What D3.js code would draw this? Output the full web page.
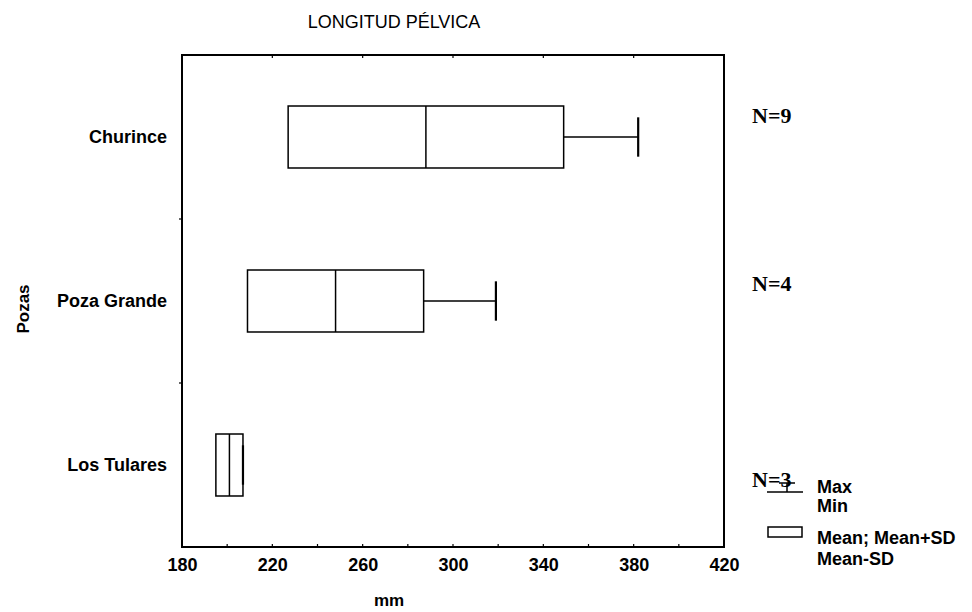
<!DOCTYPE html>
<html>
<head>
<meta charset="utf-8">
<script src="https://cdn.jsdelivr.net/npm/d3@7"></script>
<style>
  body { margin: 0; background: #fff; }
  svg { display: block; }
  text { font-family: "Liberation Sans", Arial, sans-serif; fill: #000; }
</style>
</head>
<body>
<svg id="chart" width="972" height="612"></svg>
<script>
// ---- data ----
const categories = ["Churince", "Poza Grande", "Los Tulares"];
const means = [288, 248, 201];
const sds = [61, 39, 6];
const maxs = [382, 319, 207];
const mins = [227, 209, 195];
const counts = [9, 4, 3];
const xTicks = [180, 220, 260, 300, 340, 380, 420];
const title = "LONGITUD PÉLVICA";
const xTitle = "mm";
const yTitle = "Pozas";
const legendLabels = [["Max", "Min"], ["Mean; Mean+SD", "Mean-SD"]];

// ---- layout ----
const svg = d3.select("#chart");
const L = 182, R = 724, T = 55, B = 547;
const FONT = "Liberation Sans, Arial, sans-serif";

const x = d3.scaleLinear().domain([180, 420]).range([L, R]);
const y = d3.scaleBand().domain(categories).range([T, B]);

// frame
svg.append("rect").attr("x", L).attr("y", T).attr("width", R - L).attr("height", B - T)
  .attr("fill", "none").attr("stroke", "#000").attr("stroke-width", 2);

// x axis labels
const xAxis = d3.axisBottom(x).tickValues(xTicks).tickSize(0).tickPadding(11);
const gx = svg.append("g").attr("transform", `translate(0,${B})`).call(xAxis);
gx.select(".domain").remove();
gx.selectAll("text").style("font-size", "18px").style("font-weight", "bold").style("font-family", FONT);

// inward minor ticks on bottom and top
const minor = d3.range(200, 420, 20);
svg.append("g").selectAll("line").data(minor).join("line")
  .attr("x1", d => x(d)).attr("x2", d => x(d)).attr("y1", B).attr("y2", B - 3)
  .attr("stroke", "#000").attr("stroke-width", 1.2);
svg.append("g").selectAll("line").data(xTicks.slice(1, -1)).join("line")
  .attr("x1", d => x(d)).attr("x2", d => x(d)).attr("y1", T).attr("y2", T + 3)
  .attr("stroke", "#000").attr("stroke-width", 1.2);

// y axis labels
const yAxis = d3.axisLeft(y).tickSize(0).tickPadding(15);
const gy = svg.append("g").attr("transform", `translate(${L},0)`).call(yAxis);
gy.select(".domain").remove();
gy.selectAll("text").style("font-size", "18px").style("font-weight", "bold").style("font-family", FONT);

// band boundary ticks on left axis
svg.append("g").selectAll("line").data(categories.slice(1)).join("line")
  .attr("x1", L - 3).attr("x2", L).attr("y1", d => y(d)).attr("y2", d => y(d))
  .attr("stroke", "#000").attr("stroke-width", 1.2);

// boxes
const bw = y.bandwidth();
const boxH = bw * 0.378, capH = bw * 0.24;
const nOffset = [-14, -10, 22];
const g = svg.append("g");
categories.forEach((c, i) => {
  const cy = y(c) + bw / 2;
  const lo = means[i] - sds[i], hi = means[i] + sds[i];
  g.append("line").attr("x1", x(hi)).attr("x2", x(maxs[i])).attr("y1", cy).attr("y2", cy)
    .attr("stroke", "#000").attr("stroke-width", 1.5);
  g.append("line").attr("x1", x(maxs[i])).attr("x2", x(maxs[i])).attr("y1", cy - capH / 2).attr("y2", cy + capH / 2)
    .attr("stroke", "#000").attr("stroke-width", 2.2);
  if (mins[i] < lo) {
    g.append("line").attr("x1", x(mins[i])).attr("x2", x(lo)).attr("y1", cy).attr("y2", cy)
      .attr("stroke", "#000").attr("stroke-width", 1.5);
    g.append("line").attr("x1", x(mins[i])).attr("x2", x(mins[i])).attr("y1", cy - capH / 2).attr("y2", cy + capH / 2)
      .attr("stroke", "#000").attr("stroke-width", 2.2);
  }
  g.append("rect").attr("x", x(lo)).attr("y", cy - boxH / 2).attr("width", x(hi) - x(lo)).attr("height", boxH)
    .attr("fill", "none").attr("stroke", "#000").attr("stroke-width", 1.5);
  g.append("line").attr("x1", x(means[i])).attr("x2", x(means[i])).attr("y1", cy - boxH / 2).attr("y2", cy + boxH / 2)
    .attr("stroke", "#000").attr("stroke-width", 1.5);
  svg.append("text").attr("x", 752).attr("y", cy + nOffset[i])
    .style("font-family", "Liberation Serif, Times New Roman, serif").style("font-weight", "bold")
    .style("font-size", "22px").text("N=" + counts[i]);
});

// titles
svg.append("text").attr("x", 394).attr("y", 28).attr("text-anchor", "middle")
  .style("font-size", "18px").text(title);
svg.append("text").attr("x", 389).attr("y", 606).attr("text-anchor", "middle")
  .style("font-size", "17px").style("font-weight", "bold").text(xTitle);
svg.append("text").attr("transform", "translate(29,309) rotate(-90)").attr("text-anchor", "middle")
  .style("font-size", "17px").style("font-weight", "bold").text(yTitle);

// legend
const lg = svg.append("g");
lg.append("line").attr("x1", 779).attr("x2", 795).attr("y1", 483).attr("y2", 483).attr("stroke", "#000").attr("stroke-width", 1.5);
lg.append("line").attr("x1", 787).attr("x2", 787).attr("y1", 483).attr("y2", 492).attr("stroke", "#000").attr("stroke-width", 1.5);
lg.append("line").attr("x1", 767).attr("x2", 803).attr("y1", 492).attr("y2", 492).attr("stroke", "#000").attr("stroke-width", 1.5);
lg.append("rect").attr("x", 768).attr("y", 527).attr("width", 34).attr("height", 10)
  .attr("fill", "none").attr("stroke", "#000").attr("stroke-width", 1.5);
const legY = [[493, 512], [544, 565]];
legendLabels.forEach((pair, i) => {
  pair.forEach((t, j) => {
    lg.append("text").attr("x", 817).attr("y", legY[i][j])
      .style("font-size", "18px").style("font-weight", "bold").text(t);
  });
});
</script>
</body>
</html>
